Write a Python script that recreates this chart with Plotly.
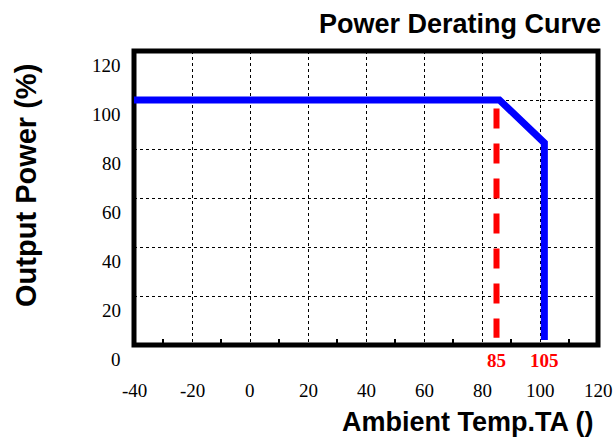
import plotly.graph_objects as go

# ---- data ----
temp = [-40, 86, 101.5, 101.5]          # derating curve, ambient temperature (°C)
power = [100, 100, 82.5, 2]             # output power (%)
marker_x = [85, 85]                     # red dashed reference line
marker_y = [96.5, 3]
x_ticks = [-40, -20, 0, 20, 40, 60, 80, 100, 120]
y_ticks = [0, 20, 40, 60, 80, 100, 120]
mark_label_x = [85, 101.5]
mark_label_text = ["85", "105"]

TICK_FONT = dict(family="Liberation Serif", size=19, color="black")
BOLD_FONT = dict(family="Liberation Sans", size=27, color="black", weight="bold")

fig = go.Figure()
fig.add_trace(go.Scatter(x=marker_x, y=marker_y, mode="lines",
                         line=dict(color="#ff0000", width=6, dash="20px,15px"),
                         hoverinfo="skip", showlegend=False))
fig.add_trace(go.Scatter(x=temp, y=power, mode="lines",
                         line=dict(color="#0000ff", width=7),
                         hoverinfo="skip", showlegend=False))

annotations = []
for v in y_ticks:
    annotations.append(dict(x=0, xref="paper", y=v, yref="y", text=str(v),
                            showarrow=False, xanchor="right", yanchor="middle",
                            xshift=-11, yshift=-14, font=TICK_FONT))
for v in x_ticks:
    annotations.append(dict(x=v, xref="x", y=0, yref="paper", text=str(v),
                            showarrow=False, xanchor="center", yanchor="middle",
                            yshift=-45, font=TICK_FONT))
for xv, t in zip(mark_label_x, mark_label_text):
    annotations.append(dict(x=xv, xref="x", y=0, yref="paper", text=t,
                            showarrow=False, xanchor="center", yanchor="middle",
                            yshift=-15,
                            font=dict(family="Liberation Serif", size=19,
                                      color="#ff0000", weight="bold")))
annotations.append(dict(x=1, xref="paper", y=1, yref="paper",
                        text="Power Derating Curve", showarrow=False,
                        xanchor="right", yanchor="middle", xshift=5, yshift=27,
                        font=BOLD_FONT))
annotations.append(dict(x=1, xref="paper", y=0, yref="paper",
                        text="Ambient Temp.TA ()", showarrow=False,
                        xanchor="right", yanchor="middle", xshift=-3, yshift=-77,
                        font=BOLD_FONT))
annotations.append(dict(x=0, xref="paper", y=0.541, yref="paper",
                        text="Output Power (%)", showarrow=False, textangle=-90,
                        xanchor="center", yanchor="middle", xshift=-108,
                        font=dict(family="Liberation Sans", size=29, color="black",
                                  weight="bold")))

fig.update_layout(
    width=614, height=442,
    margin=dict(l=134, r=16, t=51, b=97),
    paper_bgcolor="white", plot_bgcolor="white",
    annotations=annotations,
    shapes=[dict(type="rect", xref="paper", yref="paper", x0=0, x1=1, y0=0, y1=1,
                 line=dict(color="black", width=5), layer="between")],
    xaxis=dict(range=[-40, 120], tick0=-40, dtick=20, showticklabels=False,
               ticks="", showline=False, zeroline=False, showgrid=True,
               gridcolor="black", gridwidth=1, griddash="dot",
               minor=dict(ticks="inside", dtick=10, tick0=-40, ticklen=6,
                          tickwidth=1.5, tickcolor="black", showgrid=False)),
    yaxis=dict(range=[0, 120], tick0=0, dtick=20, showticklabels=False,
               ticks="", showline=False, zeroline=False, showgrid=True,
               gridcolor="black", gridwidth=1, griddash="dot"),
)

fig.write_html("out.html", config={"displayModeBar": False},
               post_script="document.body.style.margin='0';document.body.style.padding='0';")
